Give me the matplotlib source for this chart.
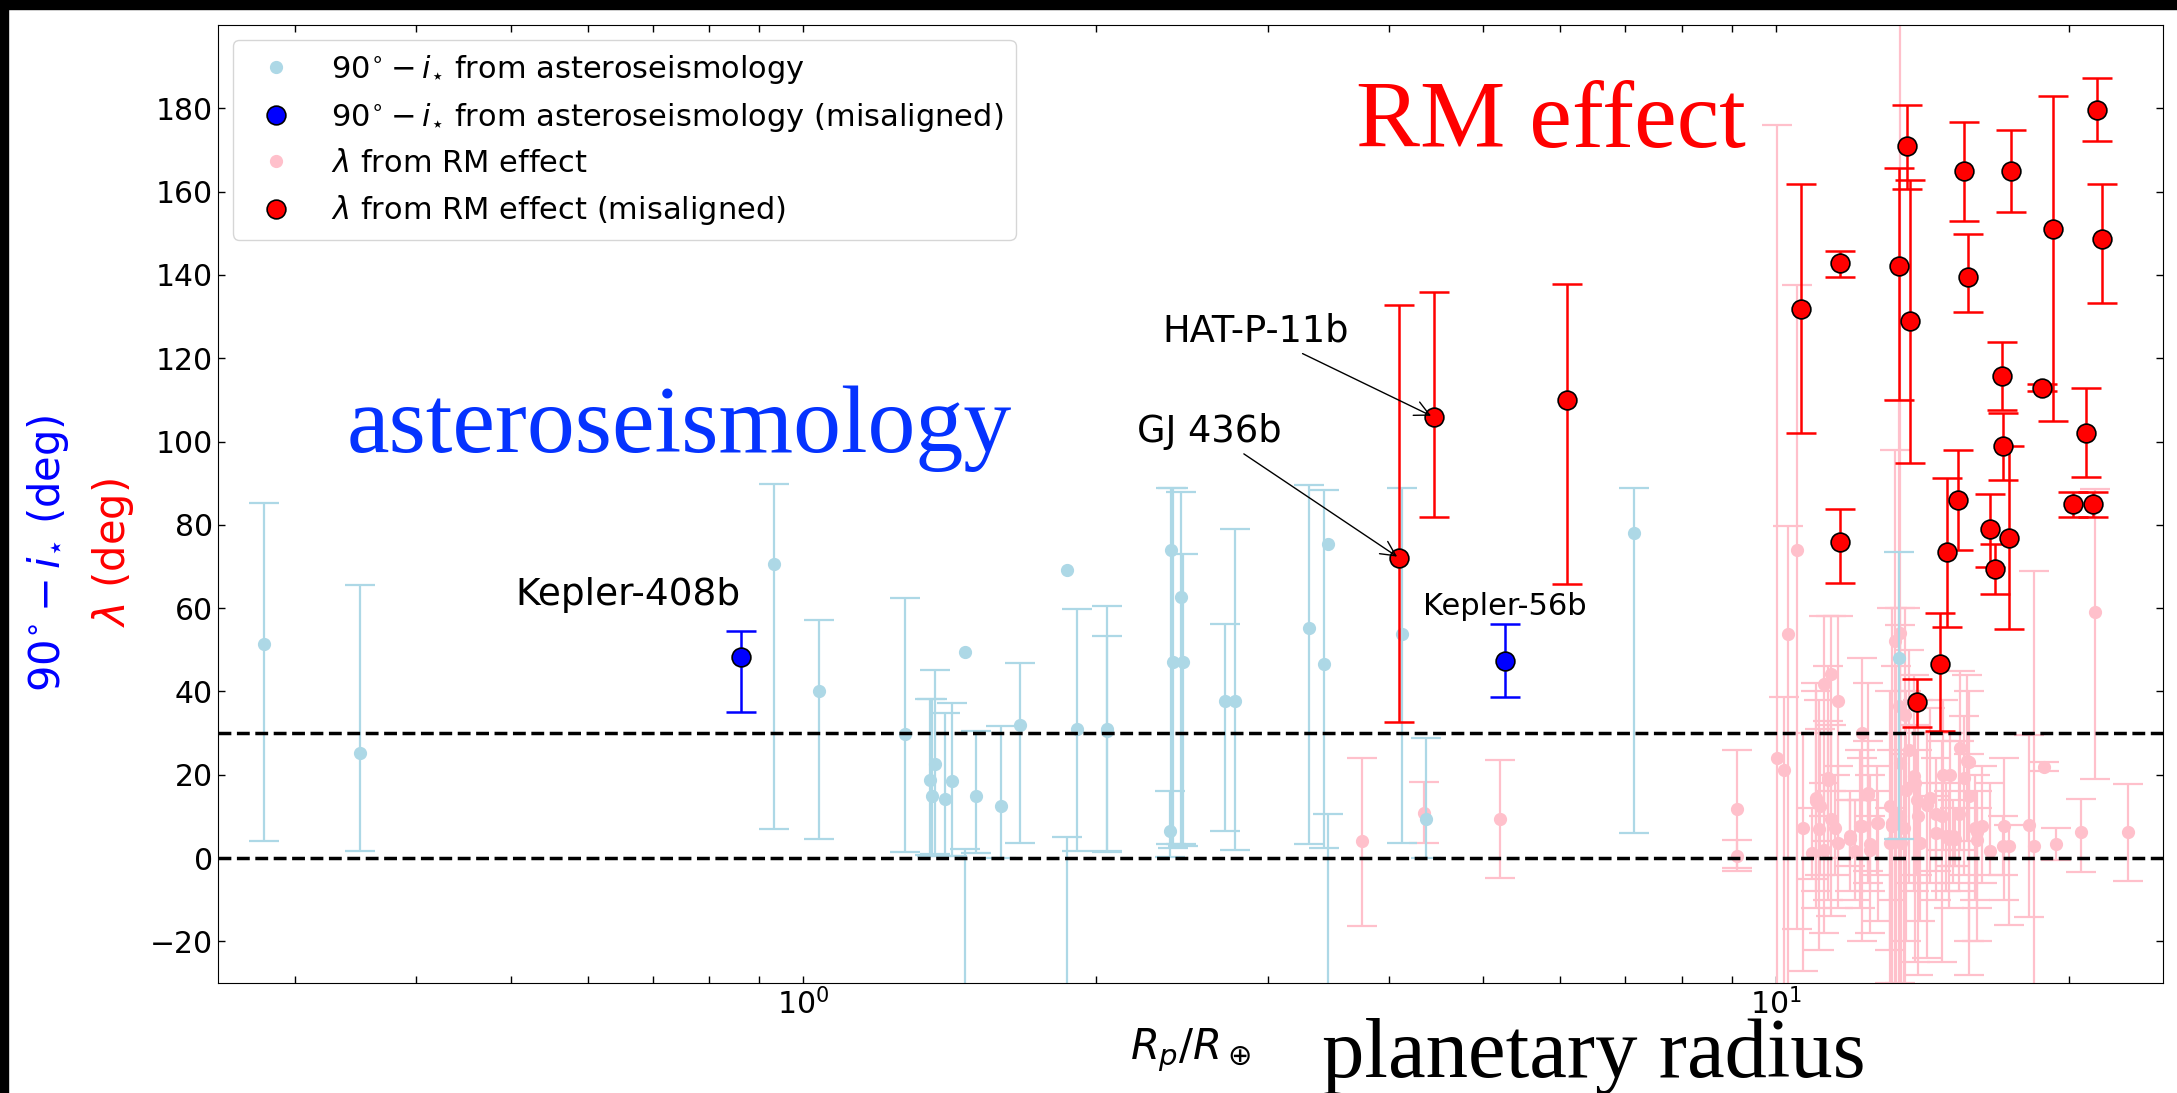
import numpy as np
import matplotlib.pyplot as plt
from matplotlib.patches import Rectangle

# 90 - i_star from asteroseismology (aligned); bounds of each error bar
ast_x = [0.2787, 0.3498, 0.932, 1.037, 1.271, 1.365, 1.350, 1.357, 1.397, 1.420,
         1.465, 1.503, 1.597, 1.670, 1.867, 1.909, 2.053, 2.053, 2.388, 2.40,
         2.447, 2.455, 2.38, 2.71, 2.78, 3.31, 3.43, 3.465, 4.125, 4.37,
         7.14, 13.37]
ast_y = [51.3, 25.2, 70.7, 40.1, 29.9, 22.5, 18.7, 14.8, 14.3, 18.4,
         49.5, 15.0, 12.6, 31.9, 69.1, 31.1, 31.0, 30.5, 74.0, 47.0,
         62.8, 47.0, 6.5, 37.8, 37.8, 55.2, 46.5, 75.4, 53.8, 9.3,
         78.0, 48.0]
ast_lo = [4.1, 1.7, 7.0, 4.7, 1.4, 1.0, 0.8, 0.5, 0.5, 0.5,
          -60, 1.3, 0.0, 3.7, -60, 1.7, 1.4, 1.8, 3.3, 2.5,
          3.5, 3.0, 0.2, 6.5, 2.0, 3.3, 2.4, -60, 3.6, 0.1,
          6.0, 4.7]
ast_hi = [85.2, 65.5, 89.8, 57.2, 62.5, 45.1, 38.2, 38.3, 34.9, 37.3,
          2.3, 30.5, 31.7, 46.9, 5.0, 59.8, 60.6, 53.3, 88.8, 88.8,
          88.0, 73.0, 16.2, 56.1, 79.0, 89.6, 88.3, 10.6, 88.9, 28.9,
          88.9, 73.5]

# misaligned asteroseismic systems
mis_names = ['Kepler-408b', 'Kepler-56b']
mis_x = [0.862, 5.26]
mis_y = [48.2, 47.4]
mis_lo = [35.1, 38.7]
mis_hi = [54.5, 56.1]

# lambda from the RM effect (aligned)
rm_x = [3.755, 4.35, 5.20, 9.11, 9.11, 10.03, 10.2, 10.28, 10.5, 10.66,
        10.9, 10.98, 11.0, 11.06, 11.1, 11.2, 11.2, 11.3, 11.3, 11.39,
        11.4, 11.5, 11.57, 11.57, 11.9, 11.9, 12.05, 12.2, 12.27, 12.25,
        12.42, 12.43, 12.5, 12.5, 12.7, 12.74, 13.1, 13.1, 13.15, 13.16,
        13.26, 13.3, 13.37, 13.4, 13.4, 13.45, 13.55, 13.58, 13.6, 13.7,
        13.85, 13.9, 13.95, 14.0, 14.05, 13.4, 14.3, 14.4, 14.6, 14.6,
        14.8, 14.86, 14.95, 15.05, 15.1, 15.2, 15.26, 15.43, 15.47, 15.6,
        15.7, 15.8, 15.8, 16.0, 16.1, 16.1, 16.3, 16.6, 17.1, 17.15,
        17.35, 18.18, 18.43, 18.84, 19.42, 20.58, 21.26, 23.03]
rm_y = [4.0, 10.8, 9.3, 11.8, 0.4, 24.1, 21.2, 53.9, 74.0, 7.2,
        1.2, 13.8, 14.4, 6.9, 12.4, 41.9, 2.0, 19.3, 18.8, 44.1,
        9.5, 7.2, 37.6, 3.6, 4.7, 5.2, 1.6, 7.6, 30.0, 7.6,
        15.2, 15.7, 3.3, 2.0, 8.4, 8.4, 12.4, 3.6, 8.4, 7.6,
        52.0, 10.8, 36.4, 54.0, 22.8, 3.6, 7.2, 34.4, 16.4, 26.0,
        19.6, 18.0, 14.0, 10.0, 3.6, 10.0, 12.8, 14.4, 10.6, 6.0,
        10.0, 20.0, 5.2, 4.7, 20.0, 5.2, 4.7, 10.6, 26.4, 19.3,
        23.2, 14.9, 23.0, 7.2, 6.2, 4.4, 7.6, 1.8, 2.9, 7.6,
        2.9, 8.0, 3.0, 21.9, 3.3, 6.2, 59.0, 6.2]
rm_lo = [-16.2, 3.6, -4.7, -3.2, -2.5, -40, -40, -35, -17, -27,
         -5, -8, -12, -22, -4, 10, -18, 4, -10, 16,
         -14, -4, 0, -12, -8, -2, -10, -12, 14, -20,
         -6, -3, -18, -8, -4, -15, -30, -22, -10, -35,
         -40, -40, -40, -40, -30, -40, -38, -36, -20, -6,
         -8, -25, -4, -28, -15, -60, -24, -6, -10, -3,
         -25, 2, -8, -12, -2, -6, -2, -8, 2, -4,
         4, -20, -28, -10, -20, -12, -6, -4, -4, -10,
         -16, -14.2, -40, 21, -0.5, -3.3, 18.9, -5.4]
rm_hi = [24.0, 18.2, 23.6, 25.9, 4.3, 176, 38.6, 79.8, 137.7, 30,
         12, 40, 42, 38, 31, 58, 18, 33, 46, 58,
         32, 20, 58, 22, 16, 14, 14, 26, 48, 24,
         28, 42, 20, 10, 22, 16, 40, 12, 26, 60,
         98, 46, 110, 56, 60, 30, 25, 60, 40, 50,
         44, 32, 26, 38, 18, 260, 30, 36, 24, 15,
         28, 38, 18, 16, 30, 14, 12, 28, 45, 34,
         44, 25, 40, 20, 16, 12, 22, 18, 10, 24,
         8, 29.5, 68.9, 23, 7.3, 14.2, 88.6, 17.9]

# lambda from the RM effect (misaligned)
rmm_x = [4.10, 4.445, 6.10, 10.6, 11.64, 11.64, 13.64, 13.37, 13.72, 13.97,
         14.74, 15.0, 15.38, 15.62, 15.76, 16.58, 16.78, 17.08, 17.12, 17.35,
         17.45, 18.77, 19.26, 20.21, 20.85, 21.16, 21.37, 21.61]
rmm_y = [72.0, 105.9, 110.0, 131.9, 142.8, 75.9, 170.9, 142.1, 128.9, 37.4,
         46.7, 73.5, 85.9, 165.0, 139.6, 78.9, 69.4, 115.8, 98.9, 76.9,
         165.0, 112.9, 151.0, 84.9, 102.1, 84.9, 179.7, 148.6]
rmm_lo = [32.6, 81.9, 65.9, 102.0, 139.6, 66.0, 160.7, 110.0, 94.8, 31.5,
          30.4, 55.4, 73.9, 152.9, 131.0, 69.9, 63.4, 107.5, 90.7, 54.9,
          155.0, 112.1, 105.0, 82.0, 91.5, 82.0, 172.1, 133.2]
rmm_hi = [132.9, 135.8, 137.9, 161.8, 145.7, 83.8, 180.8, 165.7, 162.9, 43.1,
          58.8, 91.3, 97.9, 176.8, 149.8, 87.4, 75.5, 123.8, 106.9, 98.9,
          174.9, 113.9, 182.9, 87.8, 112.9, 87.8, 187.3, 161.9]


def draw_bars(ax, lo, hi, x, color, lw):
    lo = np.asarray(lo, float)
    hi = np.asarray(hi, float)
    ax.errorbar(x, (lo + hi) / 2, yerr=(hi - lo) / 2, fmt='none',
                ecolor=color, elinewidth=lw, capsize=11, capthick=lw)


fig = plt.figure(figsize=(21.77, 10.93), dpi=100)
ax = fig.add_axes([0.1001, 0.1006, 0.8935, 0.8765])

draw_bars(ax, rm_lo, rm_hi, rm_x, 'pink', 1.6)
ax.plot(rm_x, rm_y, 'o', color='pink', ms=8.5, label=r'$\lambda$ from RM effect')

draw_bars(ax, ast_lo, ast_hi, ast_x, 'lightblue', 1.6)
ax.plot(ast_x, ast_y, 'o', color='lightblue', ms=8.5,
        label=r'$90^{\circ} - i_{\star}$ from asteroseismology')

draw_bars(ax, rmm_lo, rmm_hi, rmm_x, 'red', 1.8)
ax.plot(rmm_x, rmm_y, 'o', color='red', mec='black', mew=1.2, ms=13.5,
        label=r'$\lambda$ from RM effect (misaligned)')

draw_bars(ax, mis_lo, mis_hi, mis_x, 'blue', 1.8)
ax.plot(mis_x, mis_y, 'o', color='blue', mec='black', mew=1.2, ms=13.5,
        label=r'$90^{\circ} - i_{\star}$ from asteroseismology (misaligned)')

ax.axhline(0, color='black', ls='--', lw=2.5)
ax.axhline(30, color='black', ls='--', lw=2.5)

ax.set_xscale('log')
ax.set_xlim(0.25, 25)
ax.set_ylim(-30, 200)
ax.set_yticks(np.arange(-20, 181, 20))
ax.tick_params(which='both', direction='in', top=True, right=True,
               length=5, width=1, labelsize=21.5)

# planet names
ax.text(mis_x[0], 60.7, mis_names[0], ha='right', va='baseline', fontsize=27)
ax.text(mis_x[1], 58.3, mis_names[1], ha='center', va='baseline', fontsize=22)
ax.annotate('HAT-P-11b', xy=(rmm_x[1], rmm_y[1]), xytext=(2.92, 124),
            ha='center', va='baseline', fontsize=26.5,
            arrowprops=dict(arrowstyle='->', color='black', lw=1))
ax.annotate('GJ 436b', xy=(rmm_x[0], rmm_y[0]), xytext=(2.617, 100),
            ha='center', va='baseline', fontsize=26.5,
            arrowprops=dict(arrowstyle='->', color='black', lw=1))

handles, labels = ax.get_legend_handles_labels()
order = [1, 3, 0, 2]
ax.legend([handles[i] for i in order], [labels[i] for i in order],
          loc='upper left', fontsize=22)

ax.set_xlabel(r'$R_p/R_\oplus$', fontsize=30)
ax.text(-0.0874, 0.449, r'$90^{\circ} - i_{\star}$ (deg)', color='blue',
        fontsize=30, rotation=90, ha='center', va='center', transform=ax.transAxes)
ax.text(-0.054, 0.449, r'$\lambda$ (deg)', color='red',
        fontsize=30, rotation=90, ha='center', va='center', transform=ax.transAxes)

# big captions
ax.text(0.746, 97.4, 'asteroseismology', color='#0533ff', fontsize=69,
        family='Liberation Serif', ha='center', va='baseline')
ax.text(5.87, 170.6, 'RM effect', color='red', fontsize=69,
        family='Liberation Serif', ha='center', va='baseline')
fig.text(0.7322, 0.0149, 'planetary radius', color='black', fontsize=61,
         family='Liberation Serif', ha='center', va='baseline')

# dark frame strips along the top and left edges
fig.patches.append(Rectangle((0, 1 - 9 / 1093), 1, 9 / 1093,
                             transform=fig.transFigure, color='black'))
fig.patches.append(Rectangle((0, 0), 8 / 2177, 1,
                             transform=fig.transFigure, color='black'))

fig.savefig('out.png', dpi=100)
